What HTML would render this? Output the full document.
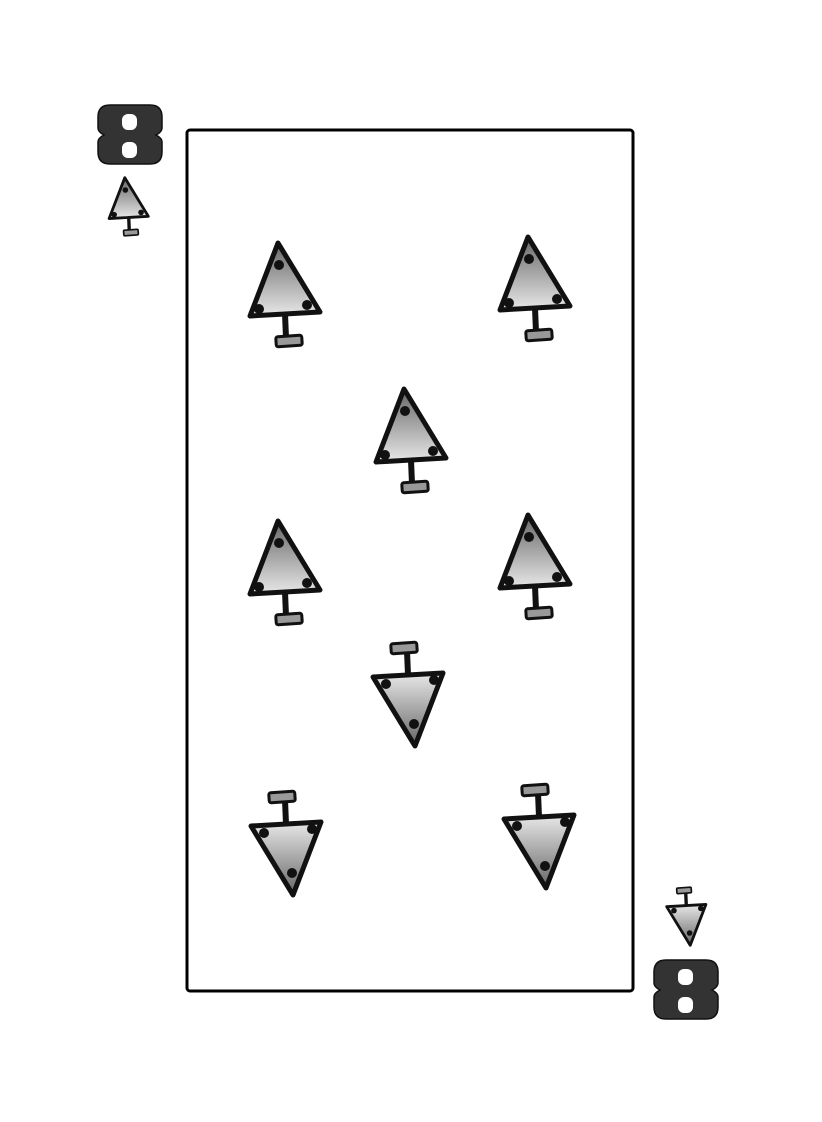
<!DOCTYPE html>
<html><head><meta charset="utf-8"><style>
html,body{margin:0;padding:0;background:#fff;}
svg{display:block;}
</style></head><body>
<svg width="822" height="1122" viewBox="0 0 822 1122" xmlns="http://www.w3.org/2000/svg">
<defs>
<linearGradient id="g" x1="0" y1="0" x2="0" y2="1">
<stop offset="0" stop-color="#666"/><stop offset="1" stop-color="#e8e8e8"/>
</linearGradient>
<g id="tree">
<line x1="37" y1="74" x2="38" y2="98" stroke="#111" stroke-width="6"/>
<rect x="28" y="96" width="26" height="10" rx="2" fill="#999" stroke="#111" stroke-width="3" transform="rotate(-4 41 101)"/>
<polygon points="30,3 2,76 72,72" fill="url(#g)" stroke="#111" stroke-width="5" stroke-linejoin="round"/>
<circle cx="31" cy="25" r="5" fill="#111"/>
<circle cx="11" cy="69" r="5" fill="#111"/>
<circle cx="59" cy="65" r="5" fill="#111"/>
</g>
<g id="eight">
<path d="M12,0 H52 Q64,0 64,12 V23 Q64,27 58,30 Q64,33 64,37 V47 Q64,59 52,59 H12 Q0,59 0,47 V37 Q0,33 6,30 Q0,27 0,23 V12 Q0,0 12,0 Z" fill="#333" stroke="#111" stroke-width="1.5"/>
<rect x="24" y="9" width="15" height="16" rx="6" fill="#fff"/>
<rect x="24" y="37" width="15" height="16" rx="6" fill="#fff"/>
</g>
</defs>
<rect x="187" y="130" width="446" height="861" rx="3" fill="none" stroke="#000" stroke-width="3"/>
<use href="#tree" transform="translate(248,240)"/>
<use href="#tree" transform="translate(498,234)"/>
<use href="#tree" transform="translate(374,386)"/>
<use href="#tree" transform="translate(248,518)"/>
<use href="#tree" transform="translate(498,512)"/>
<use href="#tree" transform="translate(445,749) rotate(180)"/>
<use href="#tree" transform="translate(323,898) rotate(180)"/>
<use href="#tree" transform="translate(576,891) rotate(180)"/>
<use href="#tree" transform="translate(108,176) scale(0.56)"/>
<use href="#tree" transform="translate(707,947) scale(0.56) rotate(180)"/>
<use href="#eight" transform="translate(98,105)"/>
<use href="#eight" transform="translate(654,960)"/>
</svg>
</body></html>
